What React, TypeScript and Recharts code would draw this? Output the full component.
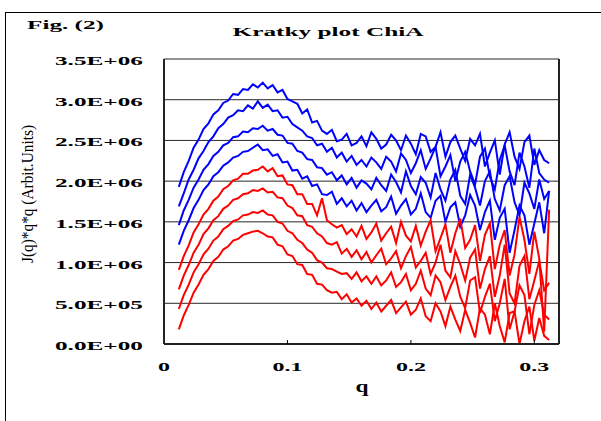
import { CartesianGrid, Line, LineChart, ReferenceLine, XAxis, YAxis } from "recharts";

// scattering vector q
const qValues = [
  0.012, 0.016, 0.02, 0.024, 0.028, 0.032, 0.036, 0.04, 0.044, 0.048,
  0.052, 0.056, 0.06, 0.064, 0.068, 0.072, 0.076, 0.08, 0.084, 0.088,
  0.092, 0.096, 0.1, 0.104, 0.108, 0.112, 0.116, 0.12, 0.124, 0.128,
  0.132, 0.136, 0.14, 0.144, 0.148, 0.152, 0.156, 0.16, 0.164, 0.168,
  0.172, 0.176, 0.18, 0.184, 0.188, 0.192, 0.196, 0.2, 0.204, 0.208,
  0.212, 0.216, 0.22, 0.224, 0.228, 0.232, 0.236, 0.24, 0.244, 0.248,
  0.252, 0.256, 0.26, 0.264, 0.268, 0.272, 0.276, 0.28, 0.284, 0.288,
  0.292, 0.296, 0.3, 0.304, 0.308, 0.312,
];

// J(q)*q*q in units of 1E+06
const blue1 = [
  1.93, 2.11, 2.25, 2.41, 2.51, 2.64, 2.71, 2.82, 2.87, 2.96,
  2.99, 3.07, 3.06, 3.13, 3.12, 3.19, 3.15, 3.21, 3.14, 3.18,
  3.09, 3.12, 3.01, 2.98, 2.95, 2.83, 2.88, 2.72, 2.74, 2.62,
  2.58, 2.63, 2.49, 2.51, 2.58, 2.44, 2.47, 2.55, 2.43, 2.6,
  2.52, 2.4, 2.45, 2.57, 2.5, 2.38, 2.56, 2.46, 2.33, 2.58,
  2.55, 2.36, 2.42, 2.6, 2.3, 2.48, 2.56, 2.4, 2.25, 2.52,
  2.44, 2.58, 2.18, 2.35, 2.5, 2.08, 2.45, 2.6, 2.3, 2.15,
  2.48, 2.56, 2.2, 2.38, 2.26, 2.22,
];
const blue2 = [
  1.69, 1.85, 2.02, 2.14, 2.28, 2.37, 2.48, 2.55, 2.65, 2.7,
  2.78, 2.81, 2.87, 2.86, 2.93, 2.89, 2.98, 2.9, 2.94, 2.86,
  2.87, 2.78, 2.79, 2.7, 2.66, 2.62, 2.55, 2.53, 2.44, 2.46,
  2.36, 2.41, 2.29, 2.35, 2.24, 2.31, 2.2, 2.26, 2.18, 2.29,
  2.23, 2.15, 2.3, 2.24, 2.12, 2.34, 2.26, 2.1, 2.22, 2.38,
  2.15, 2.28, 2.42, 2.06, 2.18, 2.32, 2.0, 2.24, 2.36, 2.12,
  1.96, 2.3, 2.4, 2.05, 1.9, 2.26, 2.44, 2.12, 1.95, 2.35,
  2.18, 1.92, 2.4, 2.1, 2.02, 1.98,
];
const blue3 = [
  1.46, 1.64, 1.77, 1.92, 2.02, 2.14, 2.21, 2.31, 2.36, 2.44,
  2.47, 2.54, 2.55, 2.61, 2.6, 2.65, 2.64, 2.68, 2.62, 2.64,
  2.57, 2.56, 2.47, 2.46, 2.37, 2.35, 2.27, 2.26, 2.17, 2.16,
  2.08, 2.11, 2.01, 2.07, 1.96, 2.04, 1.92, 2.01, 1.97, 1.9,
  2.04, 1.95, 1.88, 2.08, 1.99, 1.86, 2.12, 1.94, 1.84, 2.05,
  1.98, 1.8, 2.1, 1.9, 1.76, 2.02, 2.14, 1.82, 1.72, 2.08,
  1.92, 1.7, 2.0, 2.12, 1.78, 1.64, 1.95, 2.06, 1.74, 1.58,
  1.98, 1.85, 1.66, 2.02, 1.78, 1.88,
];
const blue4 = [
  1.22, 1.39, 1.52, 1.67, 1.77, 1.89, 1.96, 2.06, 2.11, 2.19,
  2.23, 2.29, 2.31, 2.36, 2.37, 2.41, 2.45, 2.38, 2.39, 2.31,
  2.33, 2.23, 2.24, 2.13, 2.14, 2.03, 2.06, 1.94, 1.96, 1.84,
  1.83, 1.87, 1.72, 1.79, 1.69, 1.76, 1.64, 1.73, 1.62, 1.7,
  1.77, 1.63, 1.68, 1.81, 1.6, 1.7, 1.78, 1.59, 1.66, 1.85,
  1.62, 1.55, 1.76, 1.82, 1.5, 1.68, 1.74, 1.44, 1.58, 1.83,
  1.7, 1.4, 1.62, 1.76, 1.28, 1.55, 1.66, 1.12, 1.4, 1.7,
  1.58, 1.22, 1.48, 1.74, 1.36, 1.88,
];
const red1 = [
  0.91, 1.08, 1.21, 1.37, 1.47, 1.59, 1.66, 1.76, 1.81, 1.9,
  1.94, 2.01, 2.03, 2.09, 2.09, 2.13, 2.14, 2.18, 2.12, 2.16,
  2.06, 2.07, 1.96, 1.95, 1.84, 1.84, 1.72, 1.72, 1.58, 1.79,
  1.52, 1.47, 1.43, 1.46, 1.35, 1.41, 1.32, 1.45, 1.29, 1.37,
  1.48, 1.27, 1.36, 1.44, 1.24, 1.5, 1.33, 1.26, 1.45, 1.21,
  1.38, 1.52, 1.14, 1.3, 1.47, 1.12, 1.36, 1.54, 1.18, 1.28,
  1.46, 1.02, 1.34, 1.48, 0.92, 1.22, 1.4, 0.84, 1.1, 1.56,
  1.28, 0.86, 1.38, 1.05, 0.15, 1.65,
];
const red2 = [
  0.67, 0.84, 0.97, 1.12, 1.22, 1.35, 1.42, 1.52, 1.57, 1.66,
  1.7, 1.77, 1.79, 1.84, 1.85, 1.89, 1.88, 1.91, 1.86, 1.87,
  1.8, 1.79, 1.7, 1.67, 1.58, 1.57, 1.46, 1.44, 1.36, 1.32,
  1.24, 1.22, 1.25, 1.11, 1.17, 1.07, 1.15, 1.04, 1.13, 1.0,
  1.09, 1.17, 0.98, 1.05, 1.14, 0.93, 1.08, 1.19, 0.94, 1.02,
  1.12, 0.86, 1.0, 1.22, 0.9, 0.82, 1.14, 0.98, 0.78, 1.06,
  1.16, 0.68, 0.92, 1.08, 0.58, 0.84, 1.22, 0.62, 0.5, 0.96,
  1.08, 0.55, 0.78, 1.02, 0.66, 0.75,
];
const red3 = [
  0.43, 0.6, 0.73, 0.88, 0.98, 1.1, 1.17, 1.27, 1.32, 1.41,
  1.45, 1.51, 1.53, 1.58, 1.59, 1.62, 1.61, 1.64, 1.59, 1.58,
  1.5, 1.48, 1.39, 1.36, 1.28, 1.24, 1.16, 1.12, 1.03, 1.0,
  0.93, 0.92, 0.89, 0.86, 0.87, 0.8, 0.88, 0.77, 0.83, 0.74,
  0.83, 0.72, 0.78, 0.88, 0.7, 0.76, 0.86, 0.66, 0.74, 0.9,
  0.68, 0.6, 0.84, 0.76, 0.54, 0.7, 0.84, 0.58, 0.44, 0.78,
  0.82, 0.38, 0.58, 0.74, 0.28, 0.5, 0.8, 0.18, 0.4, 0.72,
  0.6, 0.12, 0.48, 0.66, 0.36, 0.3,
];
const red4 = [
  0.18, 0.35, 0.48, 0.63, 0.73, 0.85, 0.92, 1.02, 1.07, 1.16,
  1.2, 1.27, 1.29, 1.34, 1.36, 1.38, 1.39, 1.36, 1.32, 1.31,
  1.22, 1.2, 1.1, 1.08, 0.98, 0.97, 0.86, 0.85, 0.74, 0.73,
  0.66, 0.63, 0.64, 0.55, 0.61, 0.51, 0.56, 0.47, 0.53, 0.43,
  0.51, 0.4, 0.47, 0.54, 0.38, 0.45, 0.52, 0.36, 0.42, 0.56,
  0.34, 0.28, 0.5, 0.4, 0.22, 0.46, 0.3, 0.16, 0.42, 0.26,
  0.08, 0.44, 0.36, 0.12, 0.5, 0.22, 0.02, 0.38, 0.4, 0.0,
  0.28, 0.46, 0.04, 0.32, 0.1, 0.05,
];

const xTicks = [0, 0.1, 0.2, 0.3];
const xTickLabels = ["0", "0.1", "0.2", "0.3"];
const yTicks = [0, 0.5, 1, 1.5, 2, 2.5, 3, 3.5];
const yTickLabels = ["0.0E+00", "5.0E+05", "1.0E+06", "1.5E+06", "2.0E+06", "2.5E+06", "3.0E+06", "3.5E+06"];

const series = [
  { key: "b1", values: blue1, color: "#0000FF" },
  { key: "b2", values: blue2, color: "#0000FF" },
  { key: "b3", values: blue3, color: "#0000FF" },
  { key: "b4", values: blue4, color: "#0000FF" },
  { key: "r1", values: red1, color: "#FF0000" },
  { key: "r2", values: red2, color: "#FF0000" },
  { key: "r3", values: red3, color: "#FF0000" },
  { key: "r4", values: red4, color: "#FF0000" },
];

const data = qValues.map((q, i) => {
  const row: Record<string, number> = { q };
  series.forEach((s) => (row[s.key] = s.values[i]));
  return row;
});

const serif = "'Liberation Serif', 'Times New Roman', serif";

function XTick({ x, y, payload }: any) {
  const label = xTickLabels[xTicks.indexOf(payload.value)];
  const w = label.length === 1 ? 12 : 30;
  return (
    <text x={x} y={y + 29} textAnchor="middle" fontFamily={serif} fontWeight="bold" fontSize={13}
      fill="#000" textLength={w} lengthAdjust="spacingAndGlyphs">
      {label}
    </text>
  );
}

function YTick({ x, y, payload }: any) {
  const label = yTickLabels[yTicks.indexOf(payload.value)];
  return (
    <text x={x - 13} y={y + 6} textAnchor="end" fontFamily={serif} fontWeight="bold" fontSize={13}
      fill="#000" textLength={88} lengthAdjust="spacingAndGlyphs">
      {label}
    </text>
  );
}

export default function App() {
  return (
    <div style={{ position: "fixed", left: 0, top: 0, width: 601, height: 421, background: "#fff", overflow: "hidden" }}>
      <div style={{ position: "absolute", left: 5, top: 12, width: 620, height: 440, borderLeft: "1.5px solid #000", borderTop: "1.5px solid #000" }} />
      <div style={{ position: "absolute", left: 0, top: 0 }}>
        <LineChart width={601} height={421} data={data} margin={{ top: 59, right: 42, bottom: 37, left: 0 }}>
          <CartesianGrid vertical={false} stroke="#000" strokeWidth={1} strokeOpacity={0.85} />
          <XAxis
            type="number"
            dataKey="q"
            domain={[0, 0.32]}
            ticks={xTicks}
            height={40}
            tickSize={-4}
            tickMargin={2}
            tickLine={{ stroke: "#000" }}
            axisLine={{ stroke: "#222", strokeWidth: 2 }}
            tick={<XTick />}
            allowDataOverflow
          />
          <YAxis
            type="number"
            domain={[0, 3.5]}
            ticks={yTicks}
            width={164}
            tickLine={false}
            axisLine={{ stroke: "#222", strokeWidth: 2 }}
            tick={<YTick />}
          />
          <ReferenceLine x={0.32} stroke="#222" strokeWidth={2} />
          {series.map((s) => (
            <Line key={s.key} type="linear" dataKey={s.key} stroke={s.color} strokeWidth={2}
              dot={false} isAnimationActive={false} />
          ))}
        </LineChart>
      </div>
      <svg width={601} height={421} style={{ position: "absolute", left: 0, top: 0, pointerEvents: "none" }}>
        <text x={27} y={29} fontFamily={serif} fontWeight="bold" fontSize={13} textLength={77} lengthAdjust="spacingAndGlyphs">
          Fig. (2)
        </text>
        <text x={328} y={36} textAnchor="middle" fontFamily={serif} fontWeight="bold" fontSize={13} textLength={191} lengthAdjust="spacingAndGlyphs">
          Kratky plot ChiA
        </text>
        <text x={362} y={392} textAnchor="middle" fontFamily={serif} fontWeight="bold" fontSize={16} textLength={13} lengthAdjust="spacingAndGlyphs">
          q
        </text>
        <text x={33} y={194} textAnchor="middle" fontFamily={serif} fontSize={17} transform="rotate(-90, 33, 194)" textLength={138} lengthAdjust="spacingAndGlyphs">
          J(q)*q*q  (Arbit.Units)
        </text>
      </svg>
    </div>
  );
}
